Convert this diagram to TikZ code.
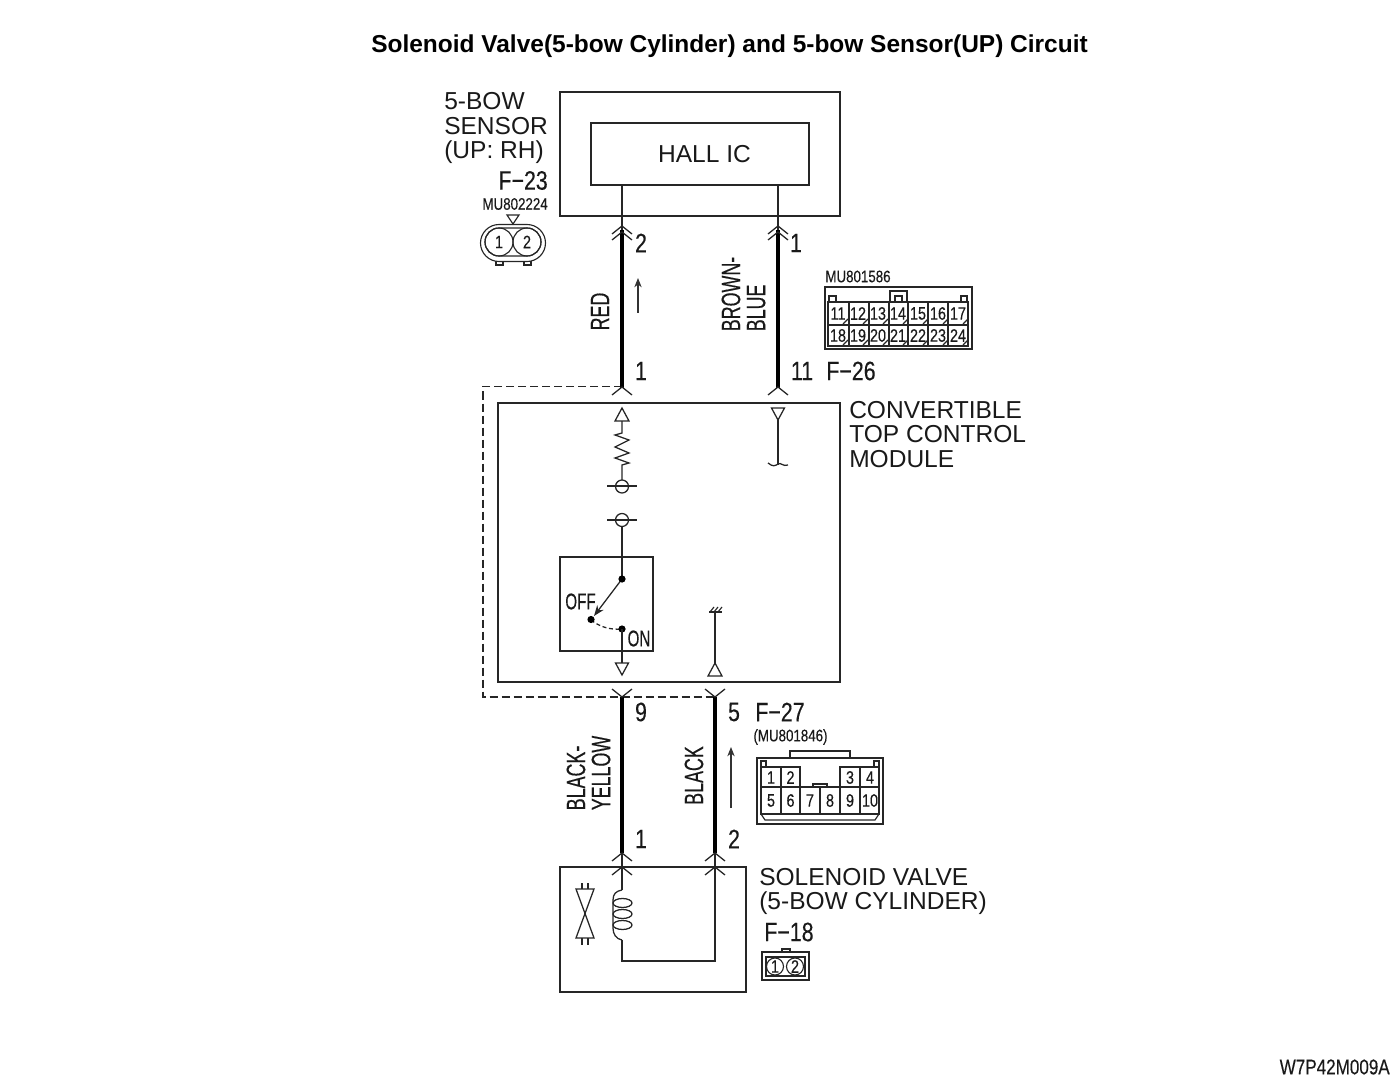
\documentclass[tikz,border=0pt]{standalone}
\usepackage{fontspec}
\usetikzlibrary{arrows.meta}
\setmainfont{Liberation Sans}
\newfontfamily\narrowfont[FakeStretch=0.8,FakeBold=0.25]{Liberation Sans}
\newfontfamily\wirefont[FakeStretch=0.67,FakeBold=0.3]{Liberation Sans}
\newcommand{\mainsize}{\fontsize{18.4pt}{18.4pt}\selectfont}
\newcommand{\pinsize}{\narrowfont\fontsize{20pt}{18.8pt}\selectfont}
\newcommand{\wiresize}{\wirefont\fontsize{20pt}{18.8pt}\selectfont}
\newcommand{\switchsize}{\wirefont\fontsize{17pt}{17pt}\selectfont}
\newcommand{\tinysize}{\narrowfont\fontsize{12.5pt}{12.5pt}\selectfont}
\newcommand{\cellsize}{\narrowfont\fontsize{13.5pt}{13.5pt}\selectfont}
\tikzset{
    boxnode/.style={draw=black!85,line width=1.05pt,inner sep=0pt,outer sep=0pt},
    thinline/.style={draw=black!85,line width=0.95pt},
    iconline/.style={draw=black!85,line width=0.85pt},
    wireline/.style={draw=black,line width=3pt},
    flowline/.style={draw=black!80,line width=0.8pt,-{Stealth[length=7pt,width=5.5pt]}},
    mainlabel/.style={font=\mainsize,inner sep=0pt,align=left,text=black!90},
    pinlabel/.style={font=\pinsize,inner sep=0pt,align=left,text=black!90},
    switchlabel/.style={font=\switchsize,inner sep=0pt,text=black!90},
    wirelabel/.style={font=\wiresize,inner sep=0pt,align=left,rotate=90,text=black!90},
    tinylabel/.style={font=\tinysize,inner sep=0pt,text=black!90},
    celllabel/.style={font=\cellsize,inner sep=0pt,text=black!90},
}
% chevron of a connector: tip at #1,#2, arms on the side #3
\newcommand{\chevron}[3]{\draw[thinline] (#1-10,#2+#3) -- (#1,#2) -- (#1+10,#2+#3);}
\begin{document}
\begin{tikzpicture}[x=0.75pt,y=0.75pt,yscale=-1,xscale=1]
    \useasboundingbox (0,0) rectangle (1400,1084);

    % Boxes
    \node (sensorbox) [boxnode,minimum width=210pt,minimum height=93pt] at (700,154) {};
    \node (hallbox) [boxnode,minimum width=163.5pt,minimum height=46.5pt] at (700,154) {};
    \node (halltext) [mainlabel] at (704.5,154) {HALL IC};
    \node (modulebox) [boxnode,minimum width=256.5pt,minimum height=209.25pt] at (669,542.5) {};
    \node (switchbox) [boxnode,minimum width=70pt,minimum height=70.5pt] at (606.5,604) {};
    \node (valvebox) [boxnode,minimum width=139.5pt,minimum height=93.75pt] at (653,929.5) {};

    % Pin coordinates
    \coordinate (redtop) at (622,230);
    \coordinate (redlow) at (622,388);
    \coordinate (bluetop) at (778,230);
    \coordinate (bluelow) at (778,388);
    \coordinate (yellowtop) at (622,697);
    \coordinate (yellowlow) at (622,853);
    \coordinate (blacktop) at (715,697);
    \coordinate (blacklow) at (715,853);
    \coordinate (dashstart) at (622,386.5);

    % Dashed module outline
    \draw [iconline,dash pattern=on 6pt off 3pt] (dashstart) -- (483,386.5) -- (483,697) -- (blacktop);

    % Wires
    \draw [wireline] (redtop) -- (redlow);
    \draw [wireline] (bluetop) -- (bluelow);
    \draw [wireline] (yellowtop) -- (yellowlow);
    \draw [wireline] (blacktop) -- (blacklow);
    \draw [thinline] (622,185) -- (redtop);
    \draw [thinline] (778,185) -- (bluetop);
    \draw [thinline] (yellowlow) -- (622,890);
    \draw [thinline] (blacklow) -- (715,961) -- (622,961) -- (622,940);

    % Chevrons
    \foreach \px in {622,778} {
        \chevron{\px}{226}{8}
        \chevron{\px}{232}{8}
        \chevron{\px}{387}{8}
    }
    \foreach \px in {622,715} {
        \chevron{\px}{697}{-8}
        \chevron{\px}{853}{8}
        \chevron{\px}{867}{8}
    }

    % Resistor branch
    \draw [thinline] (622,408) -- (629,421) -- (615,421) -- cycle;
    \draw [thinline] (622,421) -- (622,433) -- (615,435) -- (629,440) -- (615,447) -- (629,453) -- (615,458) -- (629,463) -- (622,465) -- (622,480);
    \draw [thinline] (622,486.5) circle (6.5);
    \draw [thinline] (607,486) -- (637,486);
    \draw [thinline] (622,520) circle (6.5);
    \draw [thinline] (607,520) -- (637,520);

    % Switch
    \draw [thinline] (622,526.5) -- (622,579);
    \draw [thinline,-{Stealth[length=8pt,width=6pt]}] (622,579) -- (594,616);
    \draw [thinline,dash pattern=on 3pt off 2pt] (591,620) .. controls (600,627) and (610,630) .. (622,629);
    \fill [black] (622,579) circle (3.6);
    \fill [black] (591,619.5) circle (3.6);
    \fill [black] (622,629) circle (3.6);
    \draw [thinline] (622,629) -- (622,663);
    \draw [thinline] (615.5,663) -- (628.5,663) -- (622,675) -- cycle;
    \node (offlabel) [switchlabel] at (580.5,601.5) {OFF};
    \node (onlabel) [switchlabel] at (639,638.5) {ON};

    % Input stub and ground
    \draw [thinline] (771.5,408) -- (784.5,408) -- (778,420) -- cycle;
    \draw [thinline] (778,420) -- (778,465);
    \draw [thinline] (768,463) .. controls (773,467) and (775,466) .. (778,464) .. controls (781,462) and (783,467) .. (788,465);
    \draw [thinline] (715,612) -- (715,663);
    \draw [thinline] (715,663) -- (722,676) -- (708,676) -- cycle;
    \draw [iconline] (709,612) -- (722,612);
    \foreach \hx in {710,714,718} {
        \draw [iconline] (\hx,612) -- (\hx+4,607);
    }

    % Coil
    \draw [thinline] (622,890) .. controls (616,891) and (613,894) .. (613,900) -- (613,928) .. controls (613,934) and (616,939) .. (622,940);
    \foreach \cy in {903,914,925} {
        \draw [thinline] (622.5,\cy) ellipse (9.5 and 4.5);
    }

    % Diode symbol
    \draw [thinline] (576,889) -- (594,889) -- (576,938) -- (594,938) -- cycle;
    \foreach \tx in {582,588} {
        \draw [iconline] (\tx,883) -- (\tx,889);
        \draw [iconline] (\tx,938) -- (\tx,945);
    }

    % Flow arrows
    \draw [flowline] (638,313) -- (638,278);
    \draw [flowline] (731,808) -- (731,747);

    % Connector F-23
    \draw [iconline] (499,224.5) -- (527,224.5) arc (-90:90:18.5) -- (499,261.5) arc (90:270:18.5) -- cycle;
    \draw [iconline] (499,228) -- (527,228) arc (-90:90:14) -- (499,256) arc (90:270:14) -- cycle;
    \draw [iconline] (499,242) circle (14);
    \draw [iconline] (527,242) circle (14);
    \draw [iconline] (507,215) -- (519,215) -- (513,224) -- cycle;
    \draw [iconline] (496,261.5) rectangle (503,265);
    \draw [iconline] (524,261.5) rectangle (531,265);
    \node (pinf231) [celllabel] at (499,242) {1};
    \node (pinf232) [celllabel] at (527,242) {2};

    % Connector F-26
    \draw [iconline] (825,287) rectangle (972,349);
    \draw [iconline] (828,302) rectangle (968,346);
    \draw [iconline] (828,325) -- (968,325);
    \foreach \cx in {849,869,889,908,928,948} {
        \draw [iconline] (\cx,302) -- (\cx,346);
    }
    \draw [iconline] (890,302) -- (890,291) -- (907,291) -- (907,302);
    \draw [iconline] (895,302) -- (895,296) -- (902,296) -- (902,302);
    \draw [iconline] (829,302) -- (829,296) -- (836,296) -- (836,302);
    \draw [iconline] (961,302) -- (961,296) -- (967,296) -- (967,302);
    \foreach \nr [count=\ci from 0] in {11,12,13,14,15,16,17} {
        \node (cella\nr) [celllabel] at (838+\ci*20,313.5) {\nr};
        \draw [iconline] (843+\ci*20,324) -- (848+\ci*20,319);
        \node (cellb\nr) [celllabel] at (838+\ci*20,335.5) {\the\numexpr\nr+7\relax};
        \draw [iconline] (843+\ci*20,345) -- (848+\ci*20,340);
    }

    % Connector F-27
    \draw [iconline] (757,758) rectangle (883,824);
    \draw [iconline] (790,758) -- (790,751) -- (850,751) -- (850,758);
    \draw [iconline] (761,767) rectangle (800,814);
    \draw [iconline] (840,767) rectangle (879,814);
    \draw [iconline] (761,787) -- (879,787);
    \draw [iconline] (761,814) -- (879,814);
    \foreach \cx in {781,860} {
        \draw [iconline] (\cx,767) -- (\cx,814);
    }
    \draw [iconline] (820,787) -- (820,814);
    \draw [iconline] (813,787) -- (813,784) -- (827,784) -- (827,787);
    \draw [iconline] (761,767) -- (761,761) -- (766,761) -- (766,767);
    \draw [iconline] (874,767) -- (874,761) -- (879,761) -- (879,767);
    \draw [iconline] (761,814) -- (765,820) -- (875,820) -- (879,814);
    \node (celltop1) [celllabel] at (771,777.5) {1};
    \node (celltop2) [celllabel] at (790.5,777.5) {2};
    \node (celltop3) [celllabel] at (850,777.5) {3};
    \node (celltop4) [celllabel] at (870,777.5) {4};
    \foreach \nr/\cx in {5/771,6/790.5,7/810,8/830,9/850,10/870} {
        \node (celllow\nr) [celllabel] at (\cx,800.5) {\nr};
    }

    % Connector F-18
    \draw [iconline] (762,952) rectangle (809,980);
    \draw [iconline] (766,957) rectangle (805,976);
    \draw [iconline] (782,952) -- (782,949) -- (790,949) -- (790,952);
    \draw [iconline] (775,966.5) circle (8.5);
    \draw [iconline] (795,966.5) circle (8.5);
    \node (pinf181) [celllabel] at (775,966.5) {1};
    \node (pinf182) [celllabel] at (795,966.5) {2};

    % Text Nodes
    \node (titletext) [font=\bfseries\fontsize{18.35pt}{18.35pt}\selectfont,inner sep=0pt,text=black] at (729.5,46.5) {Solenoid Valve(5-bow Cylinder) and 5-bow Sensor(UP) Circuit};
    \node (sensortext) [mainlabel,anchor=west] at (444,128) {5-BOW\\SENSOR\\(UP: RH)};
    \node (moduletext) [mainlabel,anchor=west] at (849,434.5) {CONVERTIBLE\\TOP CONTROL\\MODULE};
    \node (valvetext) [mainlabel,anchor=west] at (759,891.5) {SOLENOID VALVE\\(5-BOW CYLINDER)};
    \node (f23text) [pinlabel,anchor=east] at (548,180.5) {F−23};
    \node (mu23text) [tinylabel,anchor=east] at (548,204) {MU802224};
    \node (mu26text) [tinylabel] at (858,276.5) {MU801586};
    \node (mu27text) [tinylabel] at (790.5,737) {(MU801846)};
    \node (pin2top) [pinlabel] at (641,243) {2};
    \node (pin1top) [pinlabel] at (796,243) {1};
    \node (pin1mid) [pinlabel] at (641,371) {1};
    \node (pin11mid) [pinlabel] at (802,371) {11};
    \node (f26text) [pinlabel] at (851,371) {F−26};
    \node (pin9text) [pinlabel] at (641,712) {9};
    \node (pin5text) [pinlabel] at (734,712) {5};
    \node (f27text) [pinlabel] at (780,712) {F−27};
    \node (pin1low) [pinlabel] at (641,839) {1};
    \node (pin2low) [pinlabel] at (734,839) {2};
    \node (f18text) [pinlabel] at (789,932) {F−18};
    \node (redtext) [wirelabel] at (600,311.5) {RED};
    \node (browntext) [wirelabel] at (743.5,294) {BROWN-\\BLUE};
    \node (yellowtext) [wirelabel] at (588.5,773) {BLACK-\\YELLOW};
    \node (blacktext) [wirelabel] at (694,775.5) {BLACK};
    \node (figcode) [font=\narrowfont\fontsize{16pt}{16pt}\selectfont,inner sep=0pt,text=black!90,anchor=east] at (1390,1067) {W7P42M009A};
\end{tikzpicture}
\end{document}
